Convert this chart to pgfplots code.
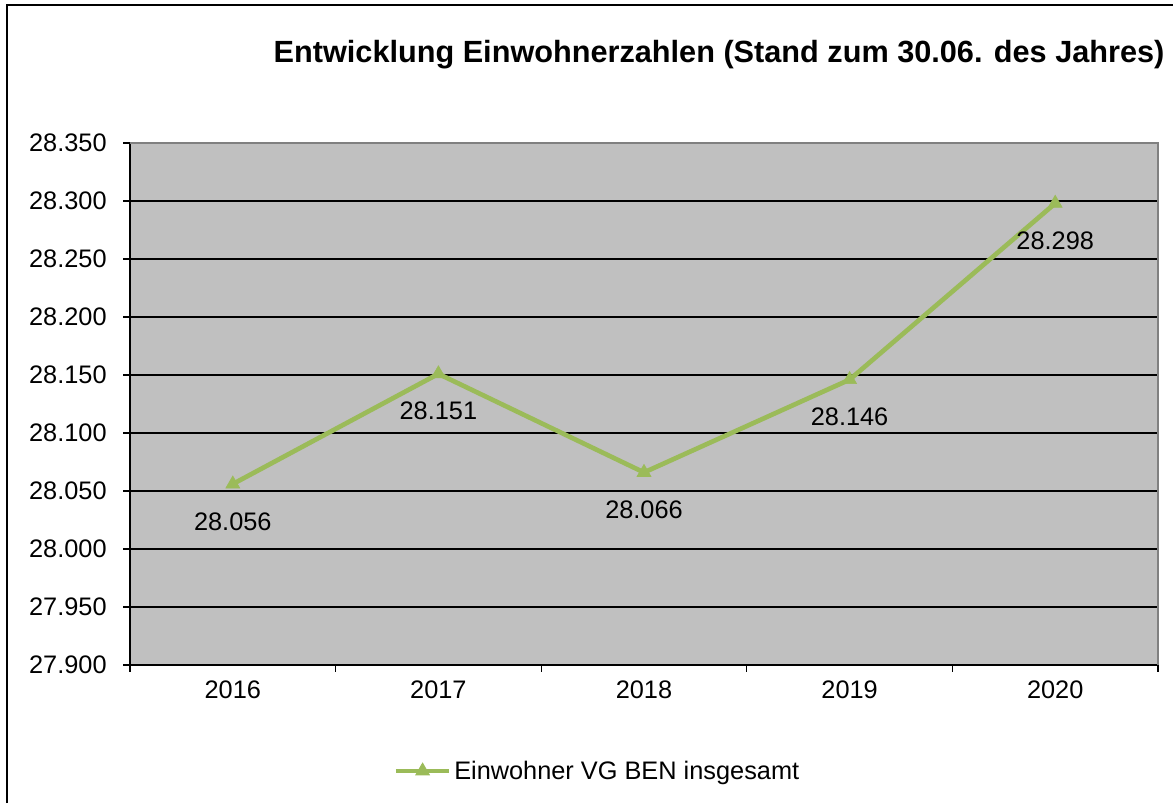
\documentclass[border=0pt]{standalone}
\usepackage{pgfplots}
\pgfplotsset{compat=1.18}
\usepackage{fontspec}
\setmainfont{Liberation Sans}
\definecolor{vgline}{RGB}{155,187,89}
\definecolor{plotbg}{RGB}{192,192,192}
\definecolor{plotedge}{RGB}{128,128,128}
\pgfkeys{/pgf/number format/.cd, fixed, precision=0, 1000 sep={.}, assume math mode=true}

\begin{document}
\begin{tikzpicture}
\useasboundingbox (-97.5pt,-103.5pt) rectangle (782.25pt,498.75pt);
\draw[line width=1.2pt] (-92.25pt,-103.5pt) -- (-92.25pt,495pt) -- (782.25pt,495pt);
\begin{axis}[
  at={(0pt,0pt)}, anchor=south west,
  scale only axis, width=771pt, height=391.5pt,
  xmin=-0.5, xmax=4.5, ymin=27900, ymax=28350,
  ytick={27900,27950,...,28350}, scaled y ticks=false,
  xtick={-0.5,0.5,...,4.5}, xticklabels={2016,2017,2018,2019,2020},
  x tick label as interval,
  axis lines=left, axis line style={-, line width=0.9pt},
  tick align=outside, major tick length=5pt,
  tick style={black, line width=0.9pt},
  ymajorgrids, grid style={black, line width=0.9pt},
  axis background/.style={fill=plotbg},
  tick label style={font=\fontsize{19}{21}\selectfont},
  yticklabel style={xshift=-9pt},
  xticklabel style={yshift=-3pt},
  nodes near coords,
  every node near coord/.append style={anchor=center, yshift=-28pt, font=\fontsize{19}{21}\selectfont, black},
  legend style={at={(axis description cs:0.455,-0.203)}, anchor=center, draw=none, fill=none,
    font=\fontsize{19}{21}\selectfont},
  legend image code/.code={\draw[mark repeat=2, mark phase=2, #1] plot coordinates {(0pt,0pt) (20pt,0pt) (40pt,0pt)};},
  after end axis/.code={\draw[plotedge, line width=1pt] (rel axis cs:0,1) -- (rel axis cs:1,1) -- (rel axis cs:1,0);},
]
\addplot[vgline, line width=3.5pt, mark=triangle*, mark size=6pt, mark options={solid, line width=0.5pt}]
  coordinates {(0,28056) (1,28151) (2,28066) (3,28146) (4,28298)};
\addlegendentry{Einwohner VG BEN insgesamt}
\end{axis}
\node[anchor=base, font=\bfseries\fontsize{23}{26}\selectfont] at (441.75pt,451.5pt)
  {Entwicklung Einwohnerzahlen (Stand zum 30.06. des Jahres)};
\end{tikzpicture}
\end{document}
